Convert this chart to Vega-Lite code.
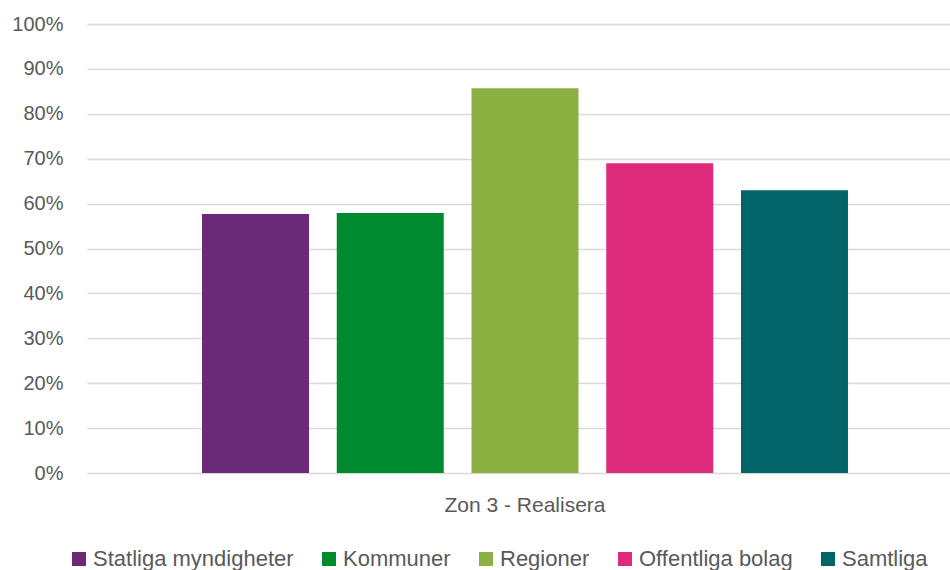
{
  "$schema": "https://vega.github.io/schema/vega-lite/v6.json",
  "width": 864,
  "height": 449,
  "padding": {"left": 11, "top": 14, "right": 0, "bottom": 0},
  "background": "white",
  "config": {"view": {"stroke": null}, "font": "Liberation Sans"},
  "data": {"values": [
    {"zon": "Zon 3 - Realisera", "grupp": "Statliga myndigheter", "andel": 0.577},
    {"zon": "Zon 3 - Realisera", "grupp": "Kommuner", "andel": 0.579},
    {"zon": "Zon 3 - Realisera", "grupp": "Regioner", "andel": 0.857},
    {"zon": "Zon 3 - Realisera", "grupp": "Offentliga bolag", "andel": 0.690},
    {"zon": "Zon 3 - Realisera", "grupp": "Samtliga", "andel": 0.630}
  ]},
  "mark": {"type": "bar"},
  "encoding": {
    "x": {
      "field": "zon", "type": "nominal",
      "scale": {"paddingInner": 0, "paddingOuter": 0.00704, "align": 1, "round": false},
      "axis": {"title": null, "labelAngle": 0, "domain": false, "ticks": false, "labelPadding": 21, "labelFontSize": 21, "labelColor": "#595959"}
    },
    "xOffset": {
      "field": "grupp", "type": "nominal",
      "sort": ["Statliga myndigheter", "Kommuner", "Regioner", "Offentliga bolag", "Samtliga"],
      "scale": {"paddingInner": 0.206, "paddingOuter": 0.7645, "round": false}
    },
    "y": {
      "field": "andel", "type": "quantitative",
      "scale": {"domain": [0, 1]},
      "axis": {"title": null, "format": ".0%", "values": [0, 0.1, 0.2, 0.3, 0.4, 0.5, 0.6, 0.7, 0.8, 0.9, 1], "domain": false, "ticks": false, "labelPadding": 24, "labelFontSize": 20, "labelColor": "#595959", "gridColor": "#d9d9d9", "gridWidth": 1.5}
    },
    "color": {
      "field": "grupp", "type": "nominal",
      "sort": ["Statliga myndigheter", "Kommuner", "Regioner", "Offentliga bolag", "Samtliga"],
      "scale": {
        "domain": ["Statliga myndigheter", "Kommuner", "Regioner", "Offentliga bolag", "Samtliga"],
        "range": ["#6a2a77", "#008a2f", "#8bb143", "#de2a7a", "#006469"]
      },
      "legend": {"orient": "none", "legendX": -19, "legendY": 524, "direction": "horizontal", "title": null, "symbolType": "square", "symbolSize": 196, "symbolStrokeWidth": 0, "symbolOpacity": 1, "labelFontSize": 22, "labelColor": "#595959", "labelLimit": 400, "columnPadding": 24, "labelOffset": 3}
    }
  }
}
